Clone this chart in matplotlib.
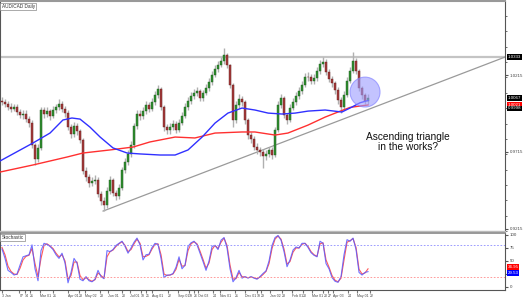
import matplotlib
matplotlib.use("Agg")
import matplotlib.pyplot as plt
import numpy as np
from matplotlib.patches import Ellipse
from matplotlib.ticker import MultipleLocator

plt.rcParams["font.family"] = ["Liberation Sans", "DejaVu Sans"]

# daily candles, AUD/CAD
closes = [
    1.0040, 1.0025, 1.0010, 0.9995, 1.0005, 0.9975, 0.9955, 0.9965, 0.9930, 0.9905,
    0.9760, 0.9670, 0.9740, 0.9985, 0.9960, 0.9980, 0.9950, 0.9990, 1.0005, 1.0030,
    0.9995, 0.9970, 0.9880, 0.9830, 0.9885, 0.9850, 0.9790, 0.9590, 0.9550, 0.9510,
    0.9525, 0.9535, 0.9440, 0.9395, 0.9370, 0.9460, 0.9530, 0.9450, 0.9430, 0.9480,
    0.9595, 0.9650, 0.9700, 0.9760, 0.9885, 0.9965, 0.9950, 0.9980, 1.0020, 0.9995,
    1.0040, 1.0085, 1.0125, 1.0005, 0.9875, 0.9855, 0.9880, 0.9895, 0.9860, 0.9905,
    0.9950, 1.0010, 1.0050, 1.0080, 1.0100, 1.0110, 1.0065, 1.0100, 1.0130, 1.0170,
    1.0215, 1.0255, 1.0280, 1.0305, 1.0345, 1.0280, 1.0150, 0.9925, 1.0020, 1.0060,
    1.0040, 0.9920, 0.9825, 0.9800, 0.9750, 0.9725, 0.9715, 0.9690, 0.9700, 0.9725,
    0.9695, 0.9860, 1.0020, 1.0065, 0.9955, 0.9925, 1.0000, 1.0040, 1.0080, 1.0110,
    1.0150, 1.0205, 1.0200, 1.0180, 1.0195, 1.0240, 1.0290, 1.0300, 1.0235, 1.0190,
    1.0165, 1.0120, 1.0055, 1.0005, 1.0085, 1.0180, 1.0245, 1.0310, 1.0240, 1.0130,
    1.0085, 1.0050, 1.0067,
]
highs = [
    1.0075, 1.0060, 1.0045, 1.0035, 1.0030, 1.0025, 0.9995, 0.9990, 0.9985, 0.9950,
    0.9920, 0.9775, 0.9765, 1.0005, 1.0010, 1.0005, 0.9995, 1.0015, 1.0030, 1.0060,
    1.0045, 1.0015, 0.9985, 0.9900, 0.9910, 0.9905, 0.9865, 0.9805, 0.9615, 0.9570,
    0.9550, 0.9565, 0.9550, 0.9460, 0.9420, 0.9485, 0.9560, 0.9545, 0.9470, 0.9505,
    0.9620, 0.9675, 0.9725, 0.9785, 0.9905, 0.9990, 0.9985, 1.0005, 1.0045, 1.0040,
    1.0065, 1.0110, 1.0150, 1.0140, 1.0020, 0.9895, 0.9905, 0.9920, 0.9915, 0.9930,
    0.9975, 1.0035, 1.0075, 1.0105, 1.0125, 1.0135, 1.0125, 1.0120, 1.0155, 1.0195,
    1.0240, 1.0280, 1.0305, 1.0335, 1.0392, 1.0360, 1.0290, 1.0165, 1.0045, 1.0090,
    1.0080, 1.0055, 0.9935, 0.9845, 0.9820, 0.9770, 0.9745, 0.9735, 0.9725, 0.9750,
    0.9745, 0.9880, 1.0045, 1.0095, 1.0080, 0.9970, 1.0025, 1.0065, 1.0105, 1.0135,
    1.0175, 1.0230, 1.0235, 1.0220, 1.0220, 1.0265, 1.0315, 1.0333, 1.0320, 1.0255,
    1.0210, 1.0180, 1.0135, 1.0070, 1.0110, 1.0205, 1.0270, 1.0366, 1.0330, 1.0255,
    1.0145, 1.0100, 1.0090,
]
lows = [
    1.0020, 1.0005, 0.9990, 0.9975, 0.9980, 0.9955, 0.9935, 0.9930, 0.9910, 0.9880,
    0.9740, 0.9630, 0.9650, 0.9725, 0.9935, 0.9940, 0.9925, 0.9935, 0.9970, 0.9990,
    0.9975, 0.9945, 0.9860, 0.9805, 0.9815, 0.9825, 0.9770, 0.9570, 0.9525, 0.9485,
    0.9490, 0.9505, 0.9420, 0.9370, 0.9330, 0.9350, 0.9440, 0.9425, 0.9405, 0.9410,
    0.9465, 0.9575, 0.9630, 0.9680, 0.9740, 0.9865, 0.9925, 0.9930, 0.9960, 0.9975,
    0.9980, 1.0020, 1.0065, 0.9985, 0.9850, 0.9830, 0.9835, 0.9860, 0.9840, 0.9845,
    0.9890, 0.9935, 0.9990, 1.0030, 1.0060, 1.0080, 1.0045, 1.0050, 1.0085, 1.0115,
    1.0150, 1.0200, 1.0235, 1.0265, 1.0290, 1.0260, 1.0130, 0.9880, 0.9905, 1.0000,
    1.0015, 0.9900, 0.9800, 0.9775, 0.9725, 0.9700, 0.9690, 0.9610, 0.9665, 0.9680,
    0.9670, 0.9680, 0.9845, 1.0000, 0.9935, 0.9900, 0.9910, 0.9985, 1.0020, 1.0060,
    1.0095, 1.0135, 1.0175, 1.0155, 1.0160, 1.0180, 1.0225, 1.0270, 1.0215, 1.0170,
    1.0140, 1.0095, 1.0030, 0.9968, 0.9990, 1.0070, 1.0165, 1.0230, 1.0220, 1.0110,
    1.0060, 1.0025, 1.0030,
]
opens = [1.0050] + closes[:-1]

# moving averages (blue = faster, red = slower)
blue_idx = [-0.67, 10.3, 16, 20.3, 23.3, 26, 29.3, 32.7, 37, 41.7, 46, 52.7, 57.7, 62,
            66.7, 71, 75.3, 80, 84.3, 88.7, 93.3, 97.7, 102, 107.7, 113.3, 116, 119.3, 122]
blue_ma = [0.9656, 0.9773, 0.9838, 0.9923, 0.9936, 0.9929, 0.9877, 0.9812, 0.9741, 0.9708,
           0.9702, 0.9695, 0.9695, 0.9728, 0.9812, 0.9903, 0.9968, 1.0001, 0.9988, 0.9968,
           0.9962, 0.9968, 0.9981, 0.9988, 0.9975, 1.0001, 1.0035, 1.0050]
red_idx = [-0.67, 10.3, 21.7, 27, 36, 43.7, 49.3, 57.7, 64.3, 71, 80, 84.3, 91, 95.3,
           102, 107.7, 112, 116, 119.3, 122]
red_ma = [0.9584, 0.9630, 0.9682, 0.9708, 0.9728, 0.9747, 0.9780, 0.9812, 0.9806, 0.9838,
          0.9845, 0.9845, 0.9825, 0.9838, 0.9890, 0.9942, 0.9975, 1.0005, 1.0014, 1.0021]

# stochastic %K (blue) and %D (red)
stoch_k = [
    73, 55, 32, 28, 23, 25, 42, 58, 60, 62,
    81, 35, 12, 70, 84, 82, 78, 72, 62, 55,
    65, 46, 8, 28, 55, 46, 15, 12, 20, 12,
    10, 15, 32, 20, 16, 70, 68, 72, 80, 84,
    88, 78, 65, 75, 86, 94, 81, 52, 62, 63,
    76, 84, 82, 55, 18, 23, 23, 26, 38, 58,
    35, 42, 78, 85, 88, 81, 65, 49, 32, 50,
    78, 80, 72, 90, 95, 75, 35, 10, 18, 32,
    17, 20, 17, 20, 17, 15, 20, 26, 31, 50,
    80, 95, 99, 90, 68, 39, 52, 71, 77, 75,
    84, 84, 76, 66, 61, 58, 88, 84, 45, 35,
    18, 11, 9, 20, 62, 91, 88, 94, 72, 28,
    23, 28, 29.53,
]
stoch_d = [
    76, 62, 40, 30, 25, 24, 36, 52, 59, 61,
    74, 45, 20, 55, 80, 83, 79, 74, 65, 58,
    62, 50, 15, 22, 48, 48, 22, 14, 18, 14,
    11, 14, 27, 22, 17, 58, 68, 71, 78, 83,
    87, 80, 68, 72, 83, 92, 84, 58, 59, 62,
    73, 82, 83, 62, 25, 22, 23, 25, 34, 53,
    40, 41, 70, 83, 87, 83, 69, 53, 36, 46,
    72, 80, 74, 86, 94, 80, 42, 15, 16, 28,
    20, 19, 18, 19, 18, 16, 19, 24, 30, 45,
    74, 92, 98, 92, 73, 44, 49, 67, 75, 75,
    82, 84, 78, 68, 62, 59, 83, 85, 52, 38,
    22, 13, 10, 17, 52, 86, 89, 93, 76, 34,
    25, 27, 34.95,
]

resistance = 1.0333
trend_x = [33.7, 167.67]
trend_y = [0.9330, 1.0333]

price_ticks = [0.9215, 0.9715, 1.0215]
stoch_ticks = [0, 25, 50, 75, 100]
date_pos = [0, 5.8, 7.5, 9.3, 12.7, 17, 22, 25.6, 27.7, 32.7, 35.3, 40, 42.5, 46.3, 48.0, 50,
            55.3, 58.5, 62.4, 63.9, 65.4, 70.3, 72.7, 77.7, 81, 85.0, 86.4, 89.3, 93.3, 96.7,
            100.3, 103.3, 107.1, 108.6, 110.3, 115.3, 118.3, 122.7]
date_labels = ["3 Jan", "07", "14", "21", "Mar 01", "21", "Apr 01", "23", "May 02", "23",
               "Jun 01", "20", "Jul 01", "18", "25", "Aug 01", "22", "Sep 01", "19", "26",
               "Oct 03", "24", "Nov 01", "21", "Dec 01", "19", "29", "Jan 02", "23",
               "Feb 01", "20", "Mar 01", "20", "27", "Apr 03", "24", "May 01", "22"]

fig = plt.figure(figsize=(5.25, 2.98), dpi=100)
ax = fig.add_axes([0.0, 0.2248, 0.962, 0.7718])
ax2 = fig.add_axes([0.0, 0.0268, 0.962, 0.1913], sharex=ax)

# candles
x = np.arange(len(closes))
o = np.array(opens)
c = np.array(closes)
up = c >= o
ax.vlines(x, lows, highs, color="#b0b0b0", lw=1.0, zorder=2)
ax.bar(x[up], np.maximum((c - o)[up], 0.0004), bottom=o[up], width=0.55,
       color="#2f8f2f", edgecolor="#1d5a1d", lw=0.3, zorder=3)
ax.bar(x[~up], np.maximum((o - c)[~up], 0.0004), bottom=c[~up], width=0.55,
       color="#a33a3a", edgecolor="#6a1f1f", lw=0.3, zorder=3)

ax.plot(red_idx, red_ma, color="#ff3030", lw=1.0, zorder=4)
ax.plot(blue_idx, blue_ma, color="#3030ff", lw=1.0, zorder=4)

ax.axhline(resistance, color="#c4c4c4", lw=1.6, zorder=1)
ax.plot(trend_x, trend_y, color="#9a9a9a", lw=0.9, zorder=1)

ax.add_patch(Ellipse((121, 1.0105), width=10, height=0.0195, fc="#9c9cff",
                     ec="#7a7aff", lw=0.8, alpha=0.6, zorder=5))
ax.text(135.3, 0.9780, "Ascending triangle\nin the works?", ha="center", va="center",
        fontsize=7.3, color="#111111", linespacing=1.05)

ax.set_xlim(-0.67, 167.67)
ax.set_ylim(0.9200, 1.0698)
ax.yaxis.tick_right()
ax.set_yticks(price_ticks)
ax.set_yticklabels([f"{v:.4f}" for v in price_ticks])
ax.yaxis.set_minor_locator(MultipleLocator(0.01))
ax.tick_params(axis="y", which="both", left=True, right=True, direction="out",
               labelsize=3.2, labelcolor="#444444", color="#555555", pad=1.5)
ax.tick_params(axis="y", which="major", length=2)
ax.tick_params(axis="y", which="minor", length=1.5)
ax.tick_params(axis="x", bottom=False, labelbottom=False)
for s in ["left", "right"]:
    ax.spines[s].set_color("#555555")
    ax.spines[s].set_linewidth(0.8)
ax.spines["top"].set_color("#999999")
ax.spines["top"].set_linewidth(1.5)
ax.spines["bottom"].set_color("#bbbbbb")
ax.spines["bottom"].set_linewidth(1.0)

ax.text(0.003, 0.988, "AUD/CAD Daily", transform=ax.transAxes, fontsize=3.4, va="top",
        color="#333333", bbox=dict(boxstyle="square,pad=0.25", fc="white", ec="#888888", lw=0.5))

ytr = ax.get_yaxis_transform()
for val, lab, bg in [(1.0333, "1.0333", "black"), (1.0067, "1.0067", "black"),
                     (1.0021, "1.0021", "#ff0000"), (0.9998, "0.9998", "black")]:
    ax.text(1.005, val, lab, transform=ytr, fontsize=3.2, color="white", va="center",
            ha="left", bbox=dict(boxstyle="square,pad=0.2", fc=bg, ec="none"), clip_on=False)

# stochastic
ax2.plot(x, stoch_d, color="#ff5a5a", lw=0.8)
ax2.plot(x, stoch_k, color="#5a5aff", lw=0.8, alpha=0.85)
ax2.axhline(80, color="#8a8aff", ls=(0, (2, 2)), lw=0.6)
ax2.axhline(20, color="#ff8a8a", ls=(0, (2, 2)), lw=0.6)
ax2.set_ylim(-5.8, 103.8)
ax2.yaxis.tick_right()
ax2.set_yticks(stoch_ticks)
ax2.tick_params(axis="y", which="both", left=True, right=True, direction="out", length=2,
                labelsize=3.2, labelcolor="#444444", color="#555555", pad=1.5)
ax2.set_xticks(date_pos)
ax2.set_xticklabels(date_labels)
ax2.tick_params(axis="x", direction="out", length=2, labelsize=2.5, labelcolor="#444444",
                color="#777777", pad=1)
for lab in ax2.get_xticklabels():
    lab.set_horizontalalignment("left")
for s in ["left", "right", "bottom"]:
    ax2.spines[s].set_color("#555555")
    ax2.spines[s].set_linewidth(0.8)
ax2.spines["top"].set_color("#888888")
ax2.spines["top"].set_linewidth(1.2)

ax2.text(0.003, 0.96, "Stochastic", transform=ax2.transAxes, fontsize=3.4, va="top",
         color="#333333", bbox=dict(boxstyle="square,pad=0.25", fc="white", ec="#888888", lw=0.5))
ytr2 = ax2.get_yaxis_transform()
ax2.text(1.005, 38, "34.95", transform=ytr2, fontsize=3.2, color="white", va="center",
         bbox=dict(boxstyle="square,pad=0.2", fc="#ff0000", ec="none"), clip_on=False)
ax2.text(1.005, 27, "29.53", transform=ytr2, fontsize=3.2, color="white", va="center",
         bbox=dict(boxstyle="square,pad=0.2", fc="#0000ff", ec="none"), clip_on=False)

fig.savefig("out.png", dpi=100, facecolor="white")
